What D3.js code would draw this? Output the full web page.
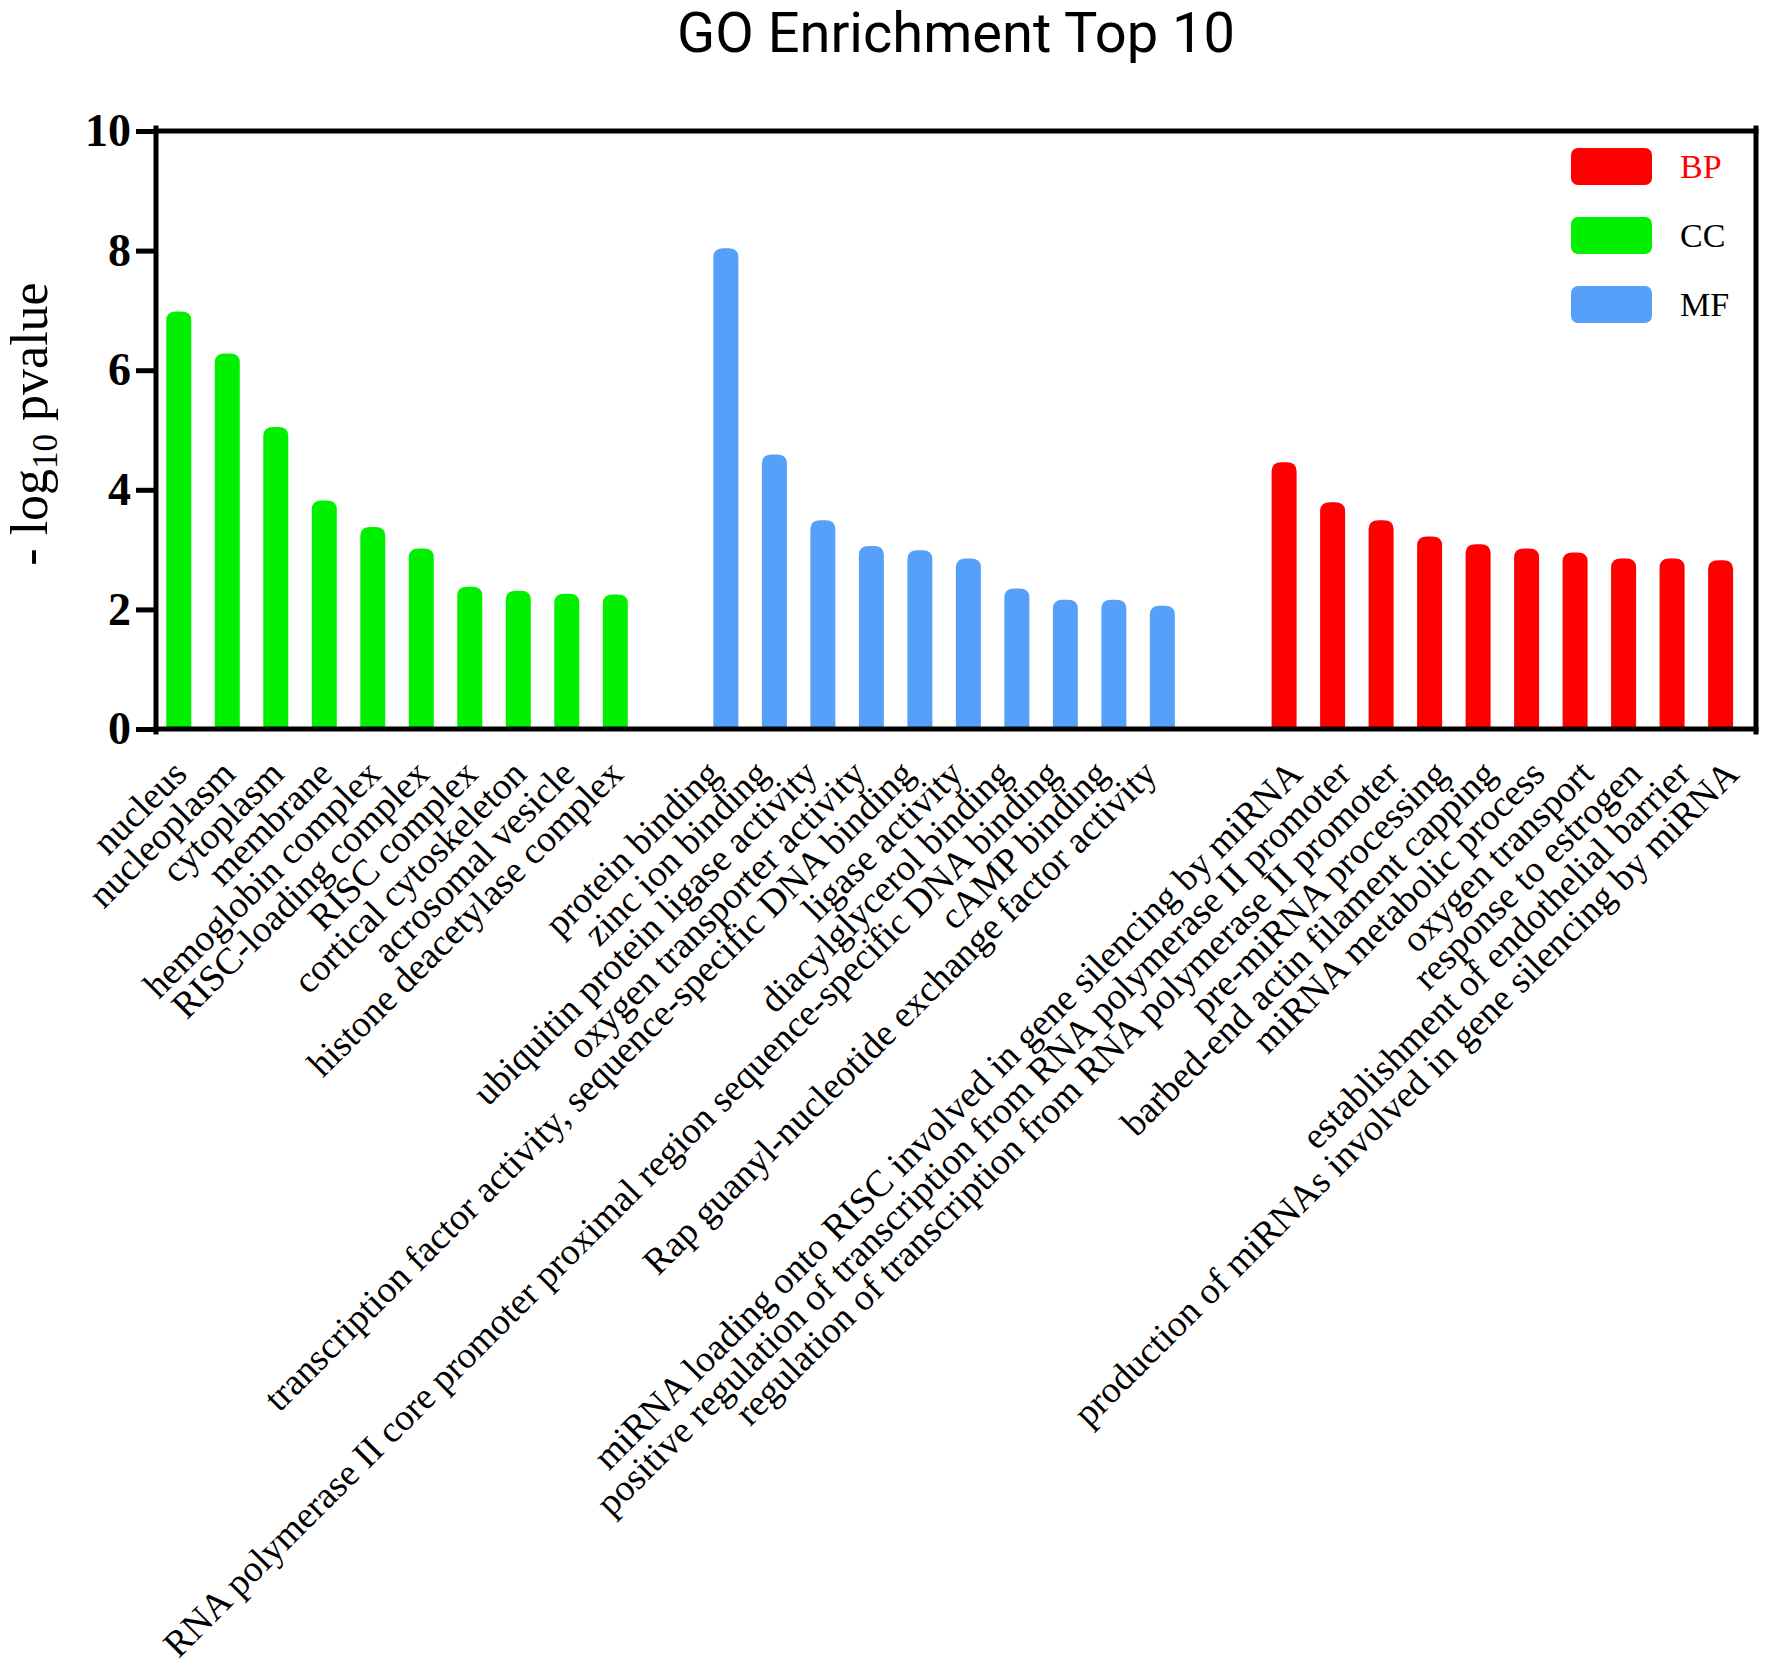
<!DOCTYPE html>
<html>
<head>
<meta charset="utf-8">
<script src="https://cdn.jsdelivr.net/npm/d3@7"></script>
<style>
  body { margin: 0; background: #fff; }
</style>
</head>
<body>
<div id="chart"></div>
<script>
// GO categories, left to right as they appear on the chart
const ccTerms = ["nucleus", "nucleoplasm", "cytoplasm", "membrane", "hemoglobin complex",
    "RISC-loading complex", "RISC complex", "cortical cytoskeleton", "acrosomal vesicle",
    "histone deacetylase complex"];
const ccValues = [6.98, 6.28, 5.05, 3.82, 3.38, 3.02, 2.38, 2.31, 2.26, 2.25];

const mfTerms = ["protein binding", "zinc ion binding", "ubiquitin protein ligase activity",
    "oxygen transporter activity", "transcription factor activity, sequence-specific DNA binding",
    "ligase activity", "diacylglycerol binding",
    "RNA polymerase II core promoter proximal region sequence-specific DNA binding",
    "cAMP binding", "Rap guanyl-nucleotide exchange factor activity"];
const mfValues = [8.04, 4.59, 3.49, 3.06, 2.99, 2.85, 2.35, 2.16, 2.16, 2.06];

const bpTerms = ["miRNA loading onto RISC involved in gene silencing by miRNA",
    "positive regulation of transcription from RNA polymerase II promoter",
    "regulation of transcription from RNA polymerase II promoter",
    "pre-miRNA processing", "barbed-end actin filament capping", "miRNA metabolic process",
    "oxygen transport", "response to estrogen", "establishment of endothelial barrier",
    "production of miRNAs involved in gene silencing by miRNA"];
const bpValues = [4.46, 3.79, 3.49, 3.22, 3.09, 3.02, 2.95, 2.85, 2.85, 2.82];

const groupNames = ["CC", "MF", "BP"];
const legendNames = ["BP", "CC", "MF"];
const yTicks = [0, 2, 4, 6, 8, 10];

const W = 1766, H = 1674;
const plot = { left: 156, right: 1756, top: 131, bottom: 729 };

// slot where each group starts (bars and labels are spaced a little differently)
const barStart = { CC: 0, MF: 11.28, BP: 22.79 };
const labelStart = { CC: 0, MF: 11, BP: 23 };

const groups = {
    CC: { terms: ccTerms, values: ccValues },
    MF: { terms: mfTerms, values: mfValues },
    BP: { terms: bpTerms, values: bpValues }
};

const data = [];
groupNames.forEach(g => {
    groups[g].terms.forEach((t, i) => {
        data.push({ group: g, term: t, value: groups[g].values[i], i: i });
    });
});

const color = d3.scaleOrdinal()
    .domain(["BP", "CC", "MF"])
    .range(["#ff0000", "#00f000", "#56a0fa"]);

const x = d3.scaleLinear()
    .domain([-0.47, 32.52])
    .range([plot.left, plot.right]);

const y = d3.scaleLinear()
    .domain([0, 10])
    .range([plot.bottom, plot.top]);

const svg = d3.select("#chart").append("svg")
    .attr("width", W)
    .attr("height", H)
    .style("background", "#fff");

svg.append("text")
    .attr("x", 956)
    .attr("y", 52)
    .attr("text-anchor", "middle")
    .style("font-family", "Roboto, sans-serif")
    .style("font-size", "56px")
    .style("fill", "#000")
    .text("GO Enrichment Top 10");

// bars with rounded tops
const barW = 25;
function barPath(d) {
    const cx = x(barStart[d.group] + d.i);
    const l = cx - barW / 2, r = cx + barW / 2;
    const t = y(d.value), b = y(0);
    const cw = 10, ch = 9;
    return `M${l},${b} L${l},${t + ch} Q${l},${t} ${l + cw},${t} L${r - cw},${t} Q${r},${t} ${r},${t + ch} L${r},${b} Z`;
}

svg.append("g")
    .selectAll("path")
    .data(data)
    .enter().append("path")
    .attr("d", barPath)
    .attr("fill", d => color(d.group));

// y axis
const yAxis = svg.append("g")
    .attr("transform", `translate(${plot.left},0)`)
    .call(d3.axisLeft(y).tickValues(yTicks).tickSize(20).tickSizeOuter(0).tickPadding(5));

yAxis.select(".domain").remove();
yAxis.selectAll(".tick line")
    .attr("stroke", "#000")
    .attr("stroke-width", 5);
yAxis.selectAll(".tick text")
    .style("font-family", "'Liberation Serif', serif")
    .style("font-weight", "bold")
    .style("font-size", "46px")
    .style("fill", "#000");

// frame
const frame = svg.append("g")
    .attr("stroke", "#000")
    .attr("stroke-width", 5)
    .attr("stroke-linecap", "square");
frame.append("line").attr("x1", plot.left).attr("x2", plot.left).attr("y1", plot.top - 3).attr("y2", plot.bottom + 3);
frame.append("line").attr("x1", plot.right).attr("x2", plot.right).attr("y1", plot.top - 3).attr("y2", plot.bottom + 3);
frame.append("line").attr("x1", plot.left).attr("x2", plot.right).attr("y1", plot.top).attr("y2", plot.top);
frame.append("line").attr("x1", plot.left).attr("x2", plot.right).attr("y1", plot.bottom).attr("y2", plot.bottom);

// y axis title
const yTitle = svg.append("text")
    .attr("transform", `translate(47,${(plot.top + plot.bottom) / 2 - 6}) rotate(-90)`)
    .attr("text-anchor", "middle")
    .style("font-family", "'Liberation Serif', serif")
    .style("font-size", "52px")
    .style("fill", "#000");
yTitle.append("tspan").text("- log");
yTitle.append("tspan").attr("dy", 10).style("font-size", "35px").text("10");
yTitle.append("tspan").attr("dy", -10).text(" pvalue");

// category labels
svg.append("g")
    .selectAll("text")
    .data(data)
    .enter().append("text")
    .attr("transform", d => `translate(${x(labelStart[d.group] + d.i) + 10},776) rotate(-45)`)
    .attr("text-anchor", "end")
    .style("font-family", "'Liberation Serif', serif")
    .style("font-size", "37.4px")
    .style("fill", "#000")
    .text(d => d.term);

// legend
const legend = svg.selectAll(".legend")
    .data(legendNames)
    .enter().append("g")
    .attr("class", "legend")
    .attr("transform", (d, i) => `translate(1571,${148 + i * 69})`);

legend.append("rect")
    .attr("width", 81)
    .attr("height", 37)
    .attr("rx", 7)
    .attr("fill", d => color(d));

legend.append("text")
    .attr("x", 109)
    .attr("y", 30)
    .style("font-family", "'Liberation Serif', serif")
    .style("font-size", "34px")
    .style("fill", d => d === "BP" ? "#ff0000" : "#000")
    .text(d => d);
</script>
</body>
</html>
